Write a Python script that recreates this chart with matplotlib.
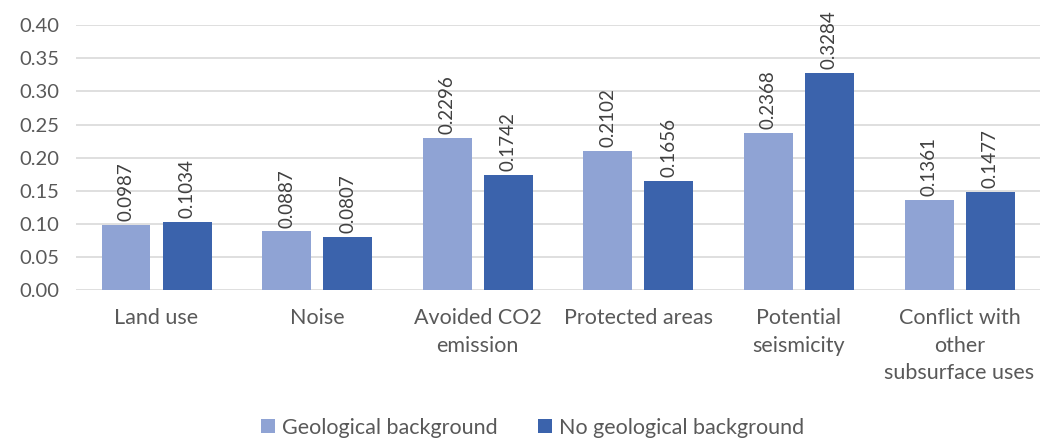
import numpy as np
import matplotlib
matplotlib.use('Agg')
import matplotlib.pyplot as plt

categories = ['Land use', 'Noise', 'Avoided CO2\nemission', 'Protected areas',
              'Potential\nseismicity', 'Conflict with\nother\nsubsurface uses']
geo = [0.0987, 0.0887, 0.2296, 0.2102, 0.2368, 0.1361]
no_geo = [0.1034, 0.0807, 0.1742, 0.1656, 0.3284, 0.1477]
yticks = [0.00, 0.05, 0.10, 0.15, 0.20, 0.25, 0.30, 0.35, 0.40]

plt.rcParams['font.family'] = ['Lato', 'DejaVu Sans']

fig = plt.figure(figsize=(10.44, 4.48), dpi=100)
ax = fig.add_axes([0.073, 0.352, 0.923, 0.592])

x = np.arange(len(categories))
w = 0.305
off = 0.19
light = '#8FA3D4'
dark = '#3B63AC'
b1 = ax.bar(x - off, geo, w, color=light, label='Geological background', zorder=2)
b2 = ax.bar(x + off, no_geo, w, color=dark, label='No geological background', zorder=2)

for bars, vals in ((b1, geo), (b2, no_geo)):
    for b, v in zip(bars, vals):
        ax.text(b.get_x() + b.get_width() / 2, v + 0.006, f'{v:.4f}', rotation=90,
                ha='center', va='bottom', fontsize=13.5, color='#404040')

ax.set_xlim(-0.5, len(categories) - 0.5)
ax.set_ylim(0, 0.40)
ax.set_yticks(yticks)
ax.set_yticklabels([f'{t:.2f}' for t in yticks])
ax.set_xticks(x)
ax.set_xticklabels(categories, linespacing=1.45)
ax.tick_params(axis='both', length=0, colors='#595959')
ax.tick_params(axis='x', pad=13, labelsize=15.5)
ax.tick_params(axis='y', pad=12, labelsize=14.5)
ax.yaxis.grid(True, color='#D9D9D9', linewidth=1.2, zorder=0)
for s in ax.spines.values():
    s.set_visible(False)

fig.legend(loc='lower center', ncol=2, frameon=False, fontsize=15.5,
           bbox_to_anchor=(0.51, -0.02), handlelength=0.65, handleheight=0.65,
           handletextpad=0.3, columnspacing=1.9, labelcolor='#595959')

fig.savefig('out.png', dpi=100)
